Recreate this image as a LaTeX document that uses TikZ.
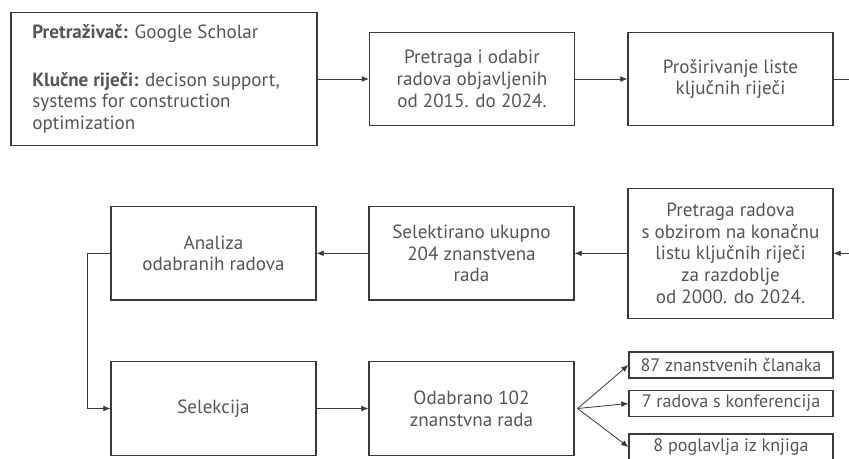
\documentclass[tikz,border=0pt]{standalone}
\usepackage{fontspec}
\setmainfont{PT Sans}
\usetikzlibrary{positioning,arrows.meta}
\definecolor{boxgray}{HTML}{3A3A3A}
\definecolor{txtgray}{HTML}{555555}

\begin{document}
\begin{tikzpicture}[
  stepbox/.style={draw=boxgray, line width=1.1pt, minimum width=6.15cm,
               minimum height=2.8cm, align=center, text=txtgray,
               font=\fontsize{16.3pt}{18.5pt}\selectfont},
  querybox/.style={stepbox, minimum width=9.18cm, minimum height=3.99cm,
               text width=7.9cm, align=flush left},
  countbox/.style={draw=boxgray, line width=1.1pt, minimum width=6.12cm,
               minimum height=0.78cm, inner sep=0pt, text=txtgray,
               font=\fontsize{15.4pt}{18pt}\selectfont},
  link/.style={line width=0.7pt, draw=boxgray, -{Latex[length=6pt,width=5pt]}},
]
\useasboundingbox (0,0) rectangle (25.47,-13.74);

% top row
\node[querybox] (query) at (4.92,-2.37)
  {{\bfseries Pretraživač:} Google Scholar\\[22pt]
   {\bfseries Klučne riječi:} decison support, systems for construction optimization\\[6pt]};
\node[stepbox] (search) at (14.16,-2.37) {Pretraga i odabir\\radova objavljenih\\od 2015. do 2024.};
\node[stepbox] (expand) at (21.915,-2.37) {Proširivanje liste\\ključnih riječi};

% middle row
\node[stepbox, minimum height=3.9cm] (final) at (21.915,-7.6)
  {Pretraga radova\\s obzirom na konačnu\\listu ključnih riječi\\za razdoblje\\od 2000. do 2024.};
\node[stepbox] (selected) at (14.145,-7.6) {Selektirano ukupno\\204 znanstvena\\rada};
\node[stepbox] (analysis) at (6.405,-7.6) {Analiza\\odabranih radova};

% bottom row
\node[stepbox] (selection) at (6.405,-12.255) {Selekcija};
\node[stepbox] (chosen) at (14.145,-12.255) {Odabrano 102\\znanstvna rada};
\node[countbox] (articles) at (21.93,-10.95) {87 znanstvenih članaka};
\node[countbox] (confs) at (21.93,-12.105) {7 radova s konferencija};
\node[countbox] (chapters) at (21.93,-13.41) {8 poglavlja iz knjiga};

\draw[link] (query) -- (search);
\draw[link] (search) -- (expand);
\draw[link] (expand.east) -- ++(1,0) |- (final.east);
\draw[link] (final) -- (selected);
\draw[link] (selected) -- (analysis);
\draw[link] (analysis.west) -- ++(-0.69,0) |- (selection.west);
\draw[link] (selection) -- (chosen);

\coordinate[right=0.09cm of chosen.east] (fan);
\foreach \t in {articles,confs,chapters}
  \draw[link] (fan) -- (\t.west);

\end{tikzpicture}
\end{document}
